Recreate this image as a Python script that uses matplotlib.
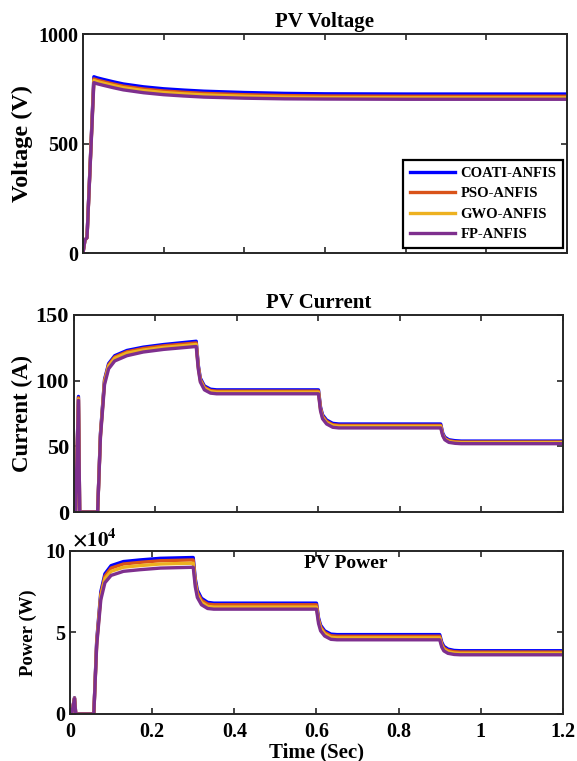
import matplotlib
matplotlib.use("Agg")
import matplotlib.pyplot as plt

plt.rcParams['font.family'] = ['Liberation Serif', 'DejaVu Serif']
plt.rcParams['font.weight'] = 'bold'
plt.rcParams['mathtext.fontset'] = 'stix'

methods = ['COATI-ANFIS', 'PSO-ANFIS', 'GWO-ANFIS', 'FP-ANFIS']
colors = ['#0000FF', '#D95319', '#EDB120', '#7E2F8E']

# PV voltage (V)
t_v = [0, 0.005, 0.01, 0.027, 0.035, 0.05, 0.075, 0.1, 0.15, 0.2, 0.25, 0.3,
       0.4, 0.5, 0.6, 0.8, 1.0, 1.2]
volt = {
    'COATI-ANFIS': [0, 60, 70, 805, 800, 793, 782, 772, 759, 750, 744, 739,
                    733, 729, 727, 726, 726, 726],
    'PSO-ANFIS':   [0, 60, 70, 795, 790, 783, 772, 762, 749, 740, 734, 729,
                    723, 719, 717, 716, 716, 716],
    'GWO-ANFIS':   [0, 60, 70, 788, 783, 776, 765, 755, 742, 733, 727, 722,
                    716, 712, 710, 709, 709, 709],
    'FP-ANFIS':    [0, 60, 70, 778, 773, 766, 755, 745, 732, 723, 717, 712,
                    707, 704, 703, 702, 702, 702],
}

# PV current (A) and power (x1e4 W) share the same time stamps
t_ip = [0, 0.004, 0.011, 0.014, 0.058, 0.065, 0.075, 0.085, 0.1, 0.13, 0.17,
        0.22, 0.3, 0.305, 0.31, 0.32, 0.335, 0.35, 0.6, 0.605, 0.61, 0.62,
        0.635, 0.65, 0.9, 0.905, 0.91, 0.92, 0.935, 0.95, 1.2]
curr = {
    'COATI-ANFIS': [0, 0, 88, 0, 0, 60, 101, 113, 119, 123, 125.5, 127.5, 130,
                    112, 102, 96, 93.5, 93, 93, 80, 74, 70, 67.5, 67, 67, 60,
                    57, 55, 54.3, 54, 54],
    'PSO-ANFIS':   [0, 0, 87, 0, 0, 59, 100, 112, 118, 122, 124.5, 126.5, 128.7,
                    111, 101, 95, 92.5, 92, 92, 79, 73, 69, 66.5, 66, 66, 59,
                    56, 54.3, 53.5, 53.3, 53.3],
    'GWO-ANFIS':   [0, 0, 86, 0, 0, 58, 99, 111, 117, 121, 123.3, 125.3, 127.5,
                    110, 100, 94.2, 91.7, 91.2, 91.2, 78, 72, 68, 65.7, 65.2,
                    65.2, 58.5, 55.5, 53.7, 53, 52.8, 52.8],
    'FP-ANFIS':    [0, 0, 85, 0, 0, 57, 97, 109, 115, 119, 121.8, 123.8, 126,
                    109, 99, 93, 90.5, 90, 90, 77, 71, 67, 64.5, 64, 64, 58,
                    55, 53, 52.3, 52, 52],
}
power_scale = 1e4
power = {
    'COATI-ANFIS': [0, 0, 1.0, 0, 0, 4.5, 7.5, 8.6, 9.1, 9.35, 9.45, 9.55, 9.6,
                    8.3, 7.6, 7.1, 6.85, 6.8, 6.8, 5.9, 5.45, 5.1, 4.9, 4.87,
                    4.87, 4.4, 4.15, 3.98, 3.9, 3.88, 3.88],
    'PSO-ANFIS':   [0, 0, 0.98, 0, 0, 4.4, 7.35, 8.45, 8.95, 9.2, 9.3, 9.4, 9.45,
                    8.15, 7.45, 6.98, 6.74, 6.7, 6.7, 5.8, 5.35, 5.0, 4.8, 4.77,
                    4.77, 4.3, 4.05, 3.9, 3.82, 3.8, 3.8],
    'GWO-ANFIS':   [0, 0, 0.96, 0, 0, 4.3, 7.2, 8.3, 8.75, 9.0, 9.1, 9.2, 9.25,
                    8.0, 7.3, 6.85, 6.6, 6.56, 6.56, 5.7, 5.25, 4.9, 4.7, 4.67,
                    4.67, 4.2, 3.97, 3.82, 3.74, 3.72, 3.72],
    'FP-ANFIS':    [0, 0, 0.95, 0, 0, 4.2, 7.0, 8.05, 8.5, 8.75, 8.85, 8.95, 9.0,
                    7.8, 7.15, 6.7, 6.47, 6.43, 6.43, 5.55, 5.1, 4.78, 4.58, 4.55,
                    4.55, 4.1, 3.87, 3.72, 3.65, 3.63, 3.63],
}

x_ticks = [0, 0.2, 0.4, 0.6, 0.8, 1.0, 1.2]
x_ticklabels = ['0', '0.2', '0.4', '0.6', '0.8', '1', '1.2']
power_ticks = [0, 5, 10]

fig = plt.figure(figsize=(5.77, 7.61), dpi=100)
ax1 = fig.add_axes([0.1438, 0.6675, 0.8389, 0.2878])
ax2 = fig.add_axes([0.1282, 0.3272, 0.8475, 0.2589])
ax3 = fig.add_axes([0.1213, 0.0618, 0.8544, 0.2142])


def style(ax):
    for s in ax.spines.values():
        s.set_linewidth(1.4)
        s.set_color('#262626')
    ax.tick_params(direction='in', top=True, right=True, length=4,
                   width=1.2, color='#262626')
    ax.set_xlim(0, 1.2)
    ax.set_xticks(x_ticks)


lw = 2.4
for m, c in zip(methods, colors):
    ax1.plot(t_v, volt[m], color=c, lw=lw, label=m)
    ax2.plot(t_ip, curr[m], color=c, lw=lw)
    ax3.plot(t_ip, [p * power_scale for p in power[m]], color=c, lw=lw)

# voltage panel
style(ax1)
ax1.set_ylim(0, 1000)
ax1.set_yticks([0, 500, 1000])
ax1.set_xticklabels([])
ax1.tick_params(axis='y', labelsize=14.5)
ax1.set_ylabel('Voltage (V)', fontsize=17.5, fontweight='bold', labelpad=4)
ax1.set_title('PV Voltage', fontsize=15, fontweight='bold', pad=5)
leg = ax1.legend(loc='lower right', fontsize=10.5, handlelength=3.1,
                 fancybox=False, edgecolor='black', framealpha=1,
                 borderpad=0.45, labelspacing=0.5, handletextpad=0.4,
                 borderaxespad=0, bbox_to_anchor=(0.992, 0.023))
leg.get_frame().set_linewidth(1.6)

# current panel
style(ax2)
ax2.set_ylim(0, 150)
ax2.set_yticks([0, 50, 100, 150])
ax2.set_xticklabels([])
ax2.tick_params(axis='y', labelsize=16)
ax2.set_ylabel('Current (A)', fontsize=16.5, fontweight='bold', labelpad=2)
ax2.set_title('PV Current', fontsize=15, fontweight='bold', pad=5)

# power panel
style(ax3)
ax3.set_ylim(0, 10 * power_scale)
ax3.set_yticks([v * power_scale for v in power_ticks])
ax3.set_yticklabels([str(v) for v in power_ticks])
ax3.set_xticklabels(x_ticklabels)
ax3.tick_params(axis='both', labelsize=14.5)
ax3.tick_params(axis='x', pad=6)
ax3.set_ylabel('Power (W)', fontsize=13.5, fontweight='bold', labelpad=6)
ax3.set_xlabel('Time (Sec)', fontsize=15, fontweight='bold', labelpad=0)
ax3.text(0.005, 1.0, r'$\times\mathbf{10^{4}}$', transform=ax3.transAxes,
         fontsize=15, ha='left', va='bottom')
ax3.text(0.56, 0.925, 'PV Power', transform=ax3.transAxes, fontsize=14,
         fontweight='bold', ha='center', va='center')

fig.savefig('out.png', dpi=100)
